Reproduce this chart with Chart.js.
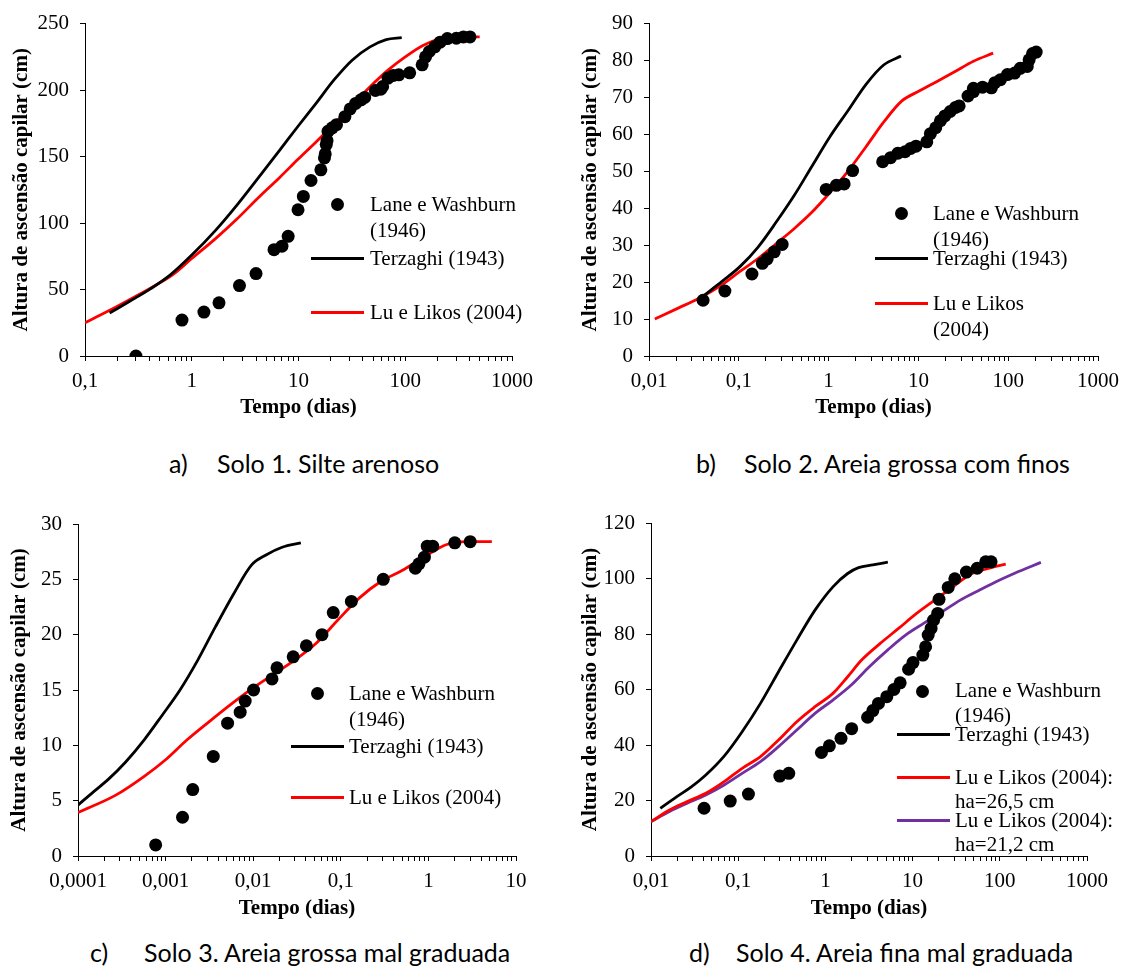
<!DOCTYPE html>
<html>
<head>
<meta charset="utf-8">
<script src="https://cdn.jsdelivr.net/npm/chart.js@4.4.0/dist/chart.umd.min.js"></script>
<style>
  body { margin: 0; background: #fff; width: 1127px; height: 980px; position: relative; overflow: hidden; font-family: 'Liberation Serif', 'Times New Roman', serif; }
  canvas { position: absolute; }
  .leg { position: absolute; font-size: 21px; line-height: 26px; white-space: nowrap; color: #000; }
  .dot { position: absolute; width: 13px; height: 13px; border-radius: 50%; background: #000; }
  .ln { position: absolute; height: 3px; width: 53px; }
  .cap { position: absolute; font-family: Lato, 'Open Sans', sans-serif; font-size: 25px; line-height: 30px; white-space: nowrap; color: #000; }
</style>
</head>
<body>
<canvas id="chartA" width="560" height="421" style="left:0;top:0"></canvas>
<canvas id="chartB" width="567" height="421" style="left:560px;top:0"></canvas>
<canvas id="chartC" width="560" height="432" style="left:0;top:490px"></canvas>
<canvas id="chartD" width="567" height="432" style="left:560px;top:490px"></canvas>

<!-- legends -->
<div class="dot" style="left:331px;top:198px"></div>
<div class="leg" style="left:370px;top:191px">Lane e Washburn<br>(1946)</div>
<div class="ln" style="left:311px;top:257px;background:#000"></div>
<div class="leg" style="left:370px;top:245px">Terzaghi (1943)</div>
<div class="ln" style="left:311px;top:311px;background:#ff0000"></div>
<div class="leg" style="left:370px;top:299px">Lu e Likos (2004)</div>

<div class="dot" style="left:895px;top:207px"></div>
<div class="leg" style="left:933px;top:200px">Lane e Washburn<br>(1946)</div>
<div class="ln" style="left:875px;top:257px;background:#000"></div>
<div class="leg" style="left:933px;top:245px">Terzaghi (1943)</div>
<div class="ln" style="left:875px;top:302px;background:#ff0000"></div>
<div class="leg" style="left:933px;top:290px">Lu e Likos<br>(2004)</div>

<div class="dot" style="left:311px;top:687px"></div>
<div class="leg" style="left:349px;top:680px">Lane e Washburn<br>(1946)</div>
<div class="ln" style="left:291px;top:745px;background:#000"></div>
<div class="leg" style="left:349px;top:733px">Terzaghi (1943)</div>
<div class="ln" style="left:291px;top:796px;background:#ff0000"></div>
<div class="leg" style="left:349px;top:784px">Lu e Likos (2004)</div>

<div class="dot" style="left:916px;top:685px"></div>
<div class="leg" style="left:955px;top:678px;line-height:25px">Lane e Washburn<br>(1946)</div>
<div class="ln" style="left:897px;top:733px;background:#000"></div>
<div class="leg" style="left:955px;top:721px">Terzaghi (1943)</div>
<div class="ln" style="left:897px;top:776px;background:#ff0000"></div>
<div class="leg" style="left:955px;top:765px;line-height:24px">Lu e Likos (2004):<br>ha=26,5 cm</div>
<div class="ln" style="left:897px;top:819px;background:#7030a0"></div>
<div class="leg" style="left:955px;top:808px;line-height:24px">Lu e Likos (2004):<br>ha=21,2 cm</div>

<!-- captions -->
<div class="cap" style="left:169px;top:448px">a)</div>
<div class="cap" style="left:217px;top:448px">Solo 1. Silte arenoso</div>
<div class="cap" style="left:696px;top:448px">b)</div>
<div class="cap" style="left:744px;top:448px">Solo 2. Areia grossa com finos</div>
<div class="cap" style="left:90px;top:937px">c)</div>
<div class="cap" style="left:144px;top:937px">Solo 3. Areia grossa mal graduada</div>
<div class="cap" style="left:689px;top:937px">d)</div>
<div class="cap" style="left:736px;top:937px">Solo 4. Areia fina mal graduada</div>

<script>
// a) Solo 1. Silte arenoso
const aTicks = [0.1, 1, 10, 100, 1000];
const aObsT = [0.30, 0.81, 1.30, 1.80, 2.8, 4.0, 5.9, 7.0, 8.0, 9.9, 11.1, 13.1, 16.2, 17.5, 17.8, 18.2, 18.5, 18.9, 20.7, 22.7, 27.2, 30.5, 34.3, 38.5, 41.7, 52.5, 59, 61.4, 68.9, 77.4, 87, 110, 144, 155, 168, 189, 212, 248, 301, 351, 404];
const aObsH = [0, 27, 33, 40, 53, 62, 80, 82.6, 90, 110, 120, 132, 140, 149, 152, 159, 162, 169, 171.6, 174, 180, 185.8, 190, 192.7, 194.5, 199.7, 200.7, 202.7, 209, 211, 211.5, 213, 219, 225, 229, 232.5, 236, 238.7, 239, 240, 240];
const aTerzT = [0.17, 0.26, 0.41, 0.63, 1.0, 1.67, 2.65, 4.2, 6.7, 9.9, 14.6, 21.5, 31.8, 46.8, 66.3, 92.7];
const aTerzH = [32.3, 41, 50.5, 61, 75.9, 94.5, 113.5, 134, 155, 172.8, 190, 207.6, 222.5, 232.5, 238, 239.5];
const aLuT = [0.1, 0.163, 0.26, 0.41, 0.66, 1.0, 1.67, 2.65, 4.2, 6.7, 9.9, 14.6, 21.5, 31.8, 46.8, 68.9, 100, 148, 218, 324, 498];
const aLuH = [25, 33.6, 42.3, 51, 61, 73.3, 88.3, 103, 119, 134.5, 148, 161, 174.5, 188.5, 202.5, 215, 225, 233.8, 238.7, 240, 240];

// b) Solo 2. Areia grossa com finos
const bTicks = [0.01, 0.1, 1, 10, 100, 1000];
const bObsT = [0.040, 0.070, 0.140, 0.183, 0.207, 0.248, 0.304, 0.94, 1.22, 1.49, 1.85, 4.0, 4.9, 5.9, 7.1, 8.2, 9.4, 12.4, 13.6, 15.6, 17.6, 19.7, 22.6, 25.9, 28.4, 35.7, 41, 41, 51.8, 65, 71, 82, 98, 118, 136, 163, 171, 187, 205];
const bObsH = [15.1, 17.6, 22.2, 25.1, 26.3, 28.2, 30.2, 45.1, 46.2, 46.6, 50.2, 52.6, 53.7, 54.9, 55.3, 56.2, 56.8, 58, 60.2, 61.8, 63.7, 65, 66.2, 67.3, 67.7, 70.4, 71.6, 72.5, 72.8, 72.6, 74, 74.8, 76.2, 76.6, 77.9, 78.4, 80.2, 81.9, 82.3];
const bTerzT = [0.040, 0.065, 0.103, 0.164, 0.26, 0.41, 0.65, 1.03, 1.64, 2.6, 4.1, 6.4];
const bTerzH = [16.2, 20.2, 24.2, 29.5, 36.2, 43.3, 51.3, 59.3, 66.4, 73.5, 78.8, 81.2];
const bLuT = [0.0116, 0.0217, 0.034, 0.065, 0.103, 0.164, 0.26, 0.41, 0.65, 1.03, 1.64, 2.6, 4.1, 6.5, 10.3, 16.3, 25.9, 41, 68];
const bLuH = [10, 13.1, 15.3, 19.3, 22.9, 26.4, 30.4, 34.4, 38.9, 44.2, 50, 56.6, 63.3, 69, 71.8, 74.4, 77.1, 79.8, 82];

// c) Solo 3. Areia grossa mal graduada
const cTicks = [0.0001, 0.001, 0.01, 0.1, 1, 10];
const cObsT = [0.00077, 0.00156, 0.00204, 0.0035, 0.0051, 0.0071, 0.0081, 0.0101, 0.0164, 0.0187, 0.0286, 0.0405, 0.061, 0.082, 0.132, 0.305, 0.71, 0.78, 0.90, 0.97, 1.12, 2.0, 3.0];
const cObsH = [1, 3.5, 6, 9, 12, 13, 14, 15, 16, 17, 18, 19, 20, 22, 23, 25, 26, 26.4, 27, 28, 28, 28.3, 28.4];
const cTerzT = [0.0001, 0.00015, 0.00022, 0.00035, 0.00057, 0.00091, 0.00146, 0.00233, 0.0037, 0.006, 0.0096, 0.014, 0.0214, 0.035];
const cTerzH = [4.6, 5.8, 6.9, 8.5, 10.5, 12.7, 15, 17.7, 20.7, 23.7, 26.3, 27.2, 27.9, 28.3];
const cLuT = [0.0001, 0.00027, 0.00057, 0.001, 0.00176, 0.0031, 0.006, 0.0096, 0.0169, 0.0297, 0.052, 0.092, 0.162, 0.286, 0.5, 0.89, 1.56, 2.75, 5.3];
const cLuH = [3.93, 5.5, 7.2, 8.7, 10.5, 12.1, 13.9, 15.1, 16.4, 17.7, 19.2, 21.3, 23.3, 24.8, 25.8, 27, 28.1, 28.4, 28.4];

// d) Solo 4. Areia fina mal graduada
const dTicks = [0.01, 0.1, 1, 10, 100, 1000];
const dObsT = [0.0406, 0.081, 0.131, 0.30, 0.38, 0.90, 1.11, 1.51, 2.0, 3.05, 3.5, 4.06, 5.06, 6.1, 7.2, 9.0, 10.1, 13.1, 14.1, 15.1, 16.3, 17.4, 19.4, 20.1, 25.6, 30.5, 41.4, 55, 69, 79.4];
const dObsH = [17.2, 19.8, 22.3, 28.8, 29.8, 37.3, 39.7, 42.4, 45.9, 50, 52.4, 55, 57.4, 60, 62.4, 67.3, 69.7, 72.4, 75.4, 79.6, 82, 85, 87.4, 92.5, 96.8, 99.9, 102.3, 103.7, 106, 106];
const dTerzT = [0.0128, 0.0198, 0.029, 0.0425, 0.069, 0.111, 0.18, 0.29, 0.47, 0.76, 1.22, 1.8, 2.4, 3.5, 5.2];
const dTerzH = [17.2, 21.4, 24.9, 29.2, 36, 44.8, 55, 66.4, 77.8, 88.6, 97, 101.8, 103.9, 104.9, 105.9];
const dLu1T = [0.01, 0.0163, 0.026, 0.0425, 0.069, 0.111, 0.18, 0.29, 0.47, 0.76, 1.22, 1.8, 2.6, 4.25, 6.9, 11.1, 17.9, 29, 46.9, 75.7, 117];
const dLu1H = [12.4, 16.6, 19.6, 22.6, 26.8, 31.6, 35.8, 41.8, 48.4, 53.8, 58.6, 64.6, 70.6, 76.6, 82, 87.4, 92.2, 97, 101.6, 103.7, 105.2];
const dLu2T = [0.01, 0.0163, 0.026, 0.0425, 0.069, 0.111, 0.18, 0.29, 0.47, 0.76, 1.22, 1.98, 3.19, 5.16, 8.3, 13.5, 21.8, 35.2, 56.8, 91.7, 148, 296];
const dLu2H = [12.4, 16, 19, 22, 25.6, 29.8, 34, 39.4, 45.4, 51.4, 56.2, 61.6, 68.2, 74.2, 79.6, 83.9, 88, 92.2, 95.6, 98.9, 101.9, 105.8];

const serif = "'Liberation Serif', 'Times New Roman', serif";

function xy(ts, hs) {
  return ts.map((t, i) => ({ x: t, y: hs[i] }));
}

// decades plus the 2..9 minor marks in between
function logTicks(majors) {
  const out = [];
  for (let i = 0; i < majors.length - 1; i++) {
    for (let m = 1; m < 10; m++) out.push(m * majors[i]);
  }
  out.push(majors[majors.length - 1]);
  return out;
}

function points(ts, hs) {
  return { data: xy(ts, hs), showLine: false, pointRadius: 6.5, pointBackgroundColor: '#000', pointBorderWidth: 0 };
}

function curve(ts, hs, color) {
  return { data: xy(ts, hs), showLine: true, pointRadius: 0, borderColor: color, borderWidth: 2.8, cubicInterpolationMode: 'monotone' };
}

function makeChart(id, o) {
  const axisGrid = { drawOnChartArea: false, drawTicks: true, tickLength: 5, color: '#000' };
  const axisBorder = { display: true, color: '#000', width: 1 };
  return new Chart(document.getElementById(id), {
    type: 'scatter',
    data: { datasets: o.datasets },
    options: {
      responsive: false,
      animation: false,
      layout: { padding: o.pad },
      plugins: { legend: { display: false }, tooltip: { enabled: false } },
      scales: {
        x: {
          type: 'logarithmic',
          min: o.xTicks[0],
          max: o.xTicks[o.xTicks.length - 1],
          afterBuildTicks: s => { s.ticks = logTicks(o.xTicks).map(v => ({ value: v })); },
          afterFit: s => { s.height = o.xh; },
          ticks: {
            autoSkip: false, maxRotation: 0, minRotation: 0, padding: 8, color: '#000',
            font: { family: serif, size: 21 },
            callback: v => o.xTicks.includes(v) ? String(v).replace('.', ',') : ''
          },
          grid: axisGrid,
          border: axisBorder,
          title: { display: true, text: 'Tempo (dias)', color: '#000', font: { family: serif, size: 21, weight: 'bold' }, padding: { top: 0, bottom: 1 } }
        },
        y: {
          min: 0,
          max: o.yMax,
          afterFit: s => { s.width = o.yw; },
          ticks: { stepSize: o.yStep, padding: 11, color: '#000', font: { family: serif, size: 21 } },
          grid: axisGrid,
          border: axisBorder,
          title: { display: true, text: 'Altura de ascensão capilar (cm)', color: '#000', font: { family: serif, size: 21, weight: 'bold' }, padding: { top: o.yTitlePad, bottom: 0 } }
        }
      }
    }
  });
}

makeChart('chartA', {
  xTicks: aTicks, yMax: 250, yStep: 50, yw: 85, xh: 65, yTitlePad: 9,
  pad: { top: 20, right: 48, left: 0, bottom: 0 },
  datasets: [points(aObsT, aObsH), curve(aTerzT, aTerzH, '#000'), curve(aLuT, aLuH, '#ff0000')]
});

makeChart('chartB', {
  xTicks: bTicks, yMax: 90, yStep: 10, yw: 89, xh: 65, yTitlePad: 18,
  pad: { top: 18, right: 23, left: 0, bottom: 0 },
  datasets: [points(bObsT, bObsH), curve(bTerzT, bTerzH, '#000'), curve(bLuT, bLuH, '#ff0000')]
});

makeChart('chartC', {
  xTicks: cTicks, yMax: 30, yStep: 5, yw: 78, xh: 66, yTitlePad: 7,
  pad: { top: 34, right: 44, left: 0, bottom: 0 },
  datasets: [points(cObsT, cObsH), curve(cTerzT, cTerzH, '#000'), curve(cLuT, cLuH, '#ff0000')]
});

makeChart('chartD', {
  xTicks: dTicks, yMax: 120, yStep: 20, yw: 91, xh: 66, yTitlePad: 18,
  pad: { top: 33, right: 40, left: 0, bottom: 0 },
  datasets: [points(dObsT, dObsH), curve(dTerzT, dTerzH, '#000'), curve(dLu1T, dLu1H, '#ff0000'), curve(dLu2T, dLu2H, '#7030a0')]
});
</script>
</body>
</html>
